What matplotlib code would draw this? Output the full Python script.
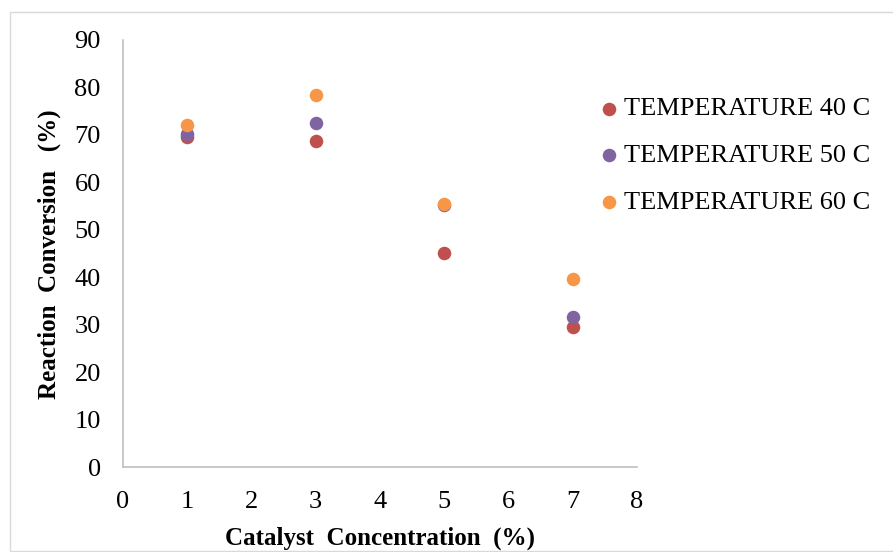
import matplotlib.pyplot as plt
from matplotlib.patches import Rectangle

plt.rcParams['font.family'] = ['Liberation Serif', 'DejaVu Serif']

conc = [1, 3, 5, 7]
t40 = [69.6, 68.7, 45.1, 29.6]
t50 = [70.1, 72.5, 55.2, 31.7]
t60 = [72.1, 78.4, 55.4, 39.7]
labels = ['TEMPERATURE 40 C', 'TEMPERATURE 50 C', 'TEMPERATURE 60 C']
colors = ['#C0504D', '#8064A2', '#F79646']

fig = plt.figure(figsize=(8.93, 5.52), dpi=100)
ax = fig.add_axes([123/893, 1-467/552, (637-123)/893, (467-40)/552])

for ys, lab, c in zip([t40, t50, t60], labels, colors):
    ax.scatter(conc, ys, s=95, color=c, label=lab, zorder=3, linewidths=0)

ax.set_xlim(0, 8)
ax.set_ylim(0, 90)
ax.set_xticks(range(0, 9))
ax.set_yticks(range(0, 100, 10))
ax.tick_params(length=0, labelsize=19, colors='black')
ax.tick_params(axis='x', pad=17)
ax.tick_params(axis='y', pad=16)
for s in ['top', 'right']:
    ax.spines[s].set_visible(False)
for s in ['left', 'bottom']:
    ax.spines[s].set_color('#BFBFBF')
    ax.spines[s].set_linewidth(1.2)

ax.set_xlabel('Catalyst  Concentration  (%)', fontsize=18, fontweight='bold', labelpad=10)
ax.set_ylabel('Reaction  Conversion   (%)', fontsize=18, fontweight='bold')
ax.yaxis.set_label_coords(-(123-61)/514, (467-254)/427)

fig.legend(loc='upper left', bbox_to_anchor=(596/893, 1-97/552), frameon=False,
           fontsize=19, handlelength=1.0, handletextpad=0.05, labelspacing=0.88,
           markerscale=1.0, borderaxespad=0, borderpad=0)

fig.patches.append(Rectangle((10/893, 0.002), 1.0, 1-12/552-0.002,
                             transform=fig.transFigure, fill=False,
                             edgecolor='#D9D9D9', linewidth=1))

fig.savefig('out.png', dpi=100)
